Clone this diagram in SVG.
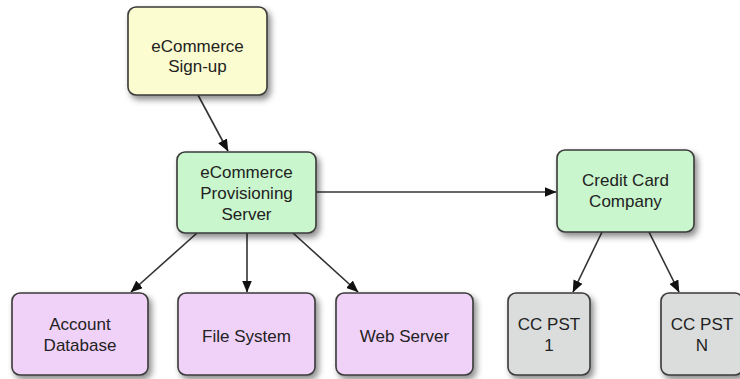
<svg xmlns="http://www.w3.org/2000/svg" width="740" height="379" viewBox="0 0 740 379">
<defs>
<filter id="sh" x="-20%" y="-20%" width="150%" height="150%">
<feDropShadow dx="3" dy="4" stdDeviation="3" flood-color="#000" flood-opacity="0.45"/>
</filter>
<marker id="ah" viewBox="0 0 12 10" refX="11.5" refY="5" markerWidth="12" markerHeight="10" markerUnits="userSpaceOnUse" orient="auto">
<path d="M0,0 L12,5 L0,10 Z" fill="#111"/>
</marker>
</defs>
<style>
.box{stroke:#3a3a3a;stroke-width:1.6;filter:url(#sh)}
.y{fill:#fbfccf}
.g{fill:#c9f6cc}
.p{fill:#f0d1f8}
.k{fill:#dadddc}
text{font-family:"Liberation Sans",Arial,sans-serif;font-size:17px;fill:#222;text-anchor:middle}
.c line{stroke:#333;stroke-width:1.6;marker-end:url(#ah)}
</style>
<g class="c" id="connectors">
<line x1="198" y1="95" x2="228" y2="151"/>
<line x1="316" y1="192" x2="556" y2="192"/>
<line x1="197" y1="233" x2="131" y2="292"/>
<line x1="247" y1="233" x2="247" y2="292"/>
<line x1="293" y1="233" x2="358" y2="292"/>
<line x1="602" y1="232" x2="573" y2="292"/>
<line x1="649" y1="232" x2="679" y2="292"/>
</g>
<g id="signup">
<rect class="box y" x="128" y="7" width="139" height="88" rx="8"/>
<text x="197.5" y="52">eCommerce</text>
<text x="197.5" y="72">Sign-up</text>
</g>
<g id="provisioning">
<rect class="box g" x="177" y="152" width="139" height="81" rx="8"/>
<text x="246.5" y="178">eCommerce</text>
<text x="246.5" y="199">Provisioning</text>
<text x="246.5" y="220">Server</text>
</g>
<g id="creditcard">
<rect class="box g" x="557" y="150" width="137" height="82" rx="8"/>
<text x="625.5" y="186">Credit Card</text>
<text x="625.5" y="207">Company</text>
</g>
<g id="accountdb">
<rect class="box p" x="12" y="293" width="136" height="82" rx="8"/>
<text x="80" y="330">Account</text>
<text x="80" y="351">Database</text>
</g>
<g id="filesystem">
<rect class="box p" x="178" y="293" width="137" height="82" rx="8"/>
<text x="246.5" y="342">File System</text>
</g>
<g id="webserver">
<rect class="box p" x="336" y="293" width="137" height="82" rx="8"/>
<text x="404.5" y="342">Web Server</text>
</g>
<g id="ccpst1">
<rect class="box k" x="508" y="293" width="82" height="82" rx="8"/>
<text x="549" y="330">CC PST</text>
<text x="549" y="351">1</text>
</g>
<g id="ccpstn">
<rect class="box k" x="661" y="293" width="82" height="82" rx="8"/>
<text x="702" y="330">CC PST</text>
<text x="702" y="351">N</text>
</g>
</svg>
